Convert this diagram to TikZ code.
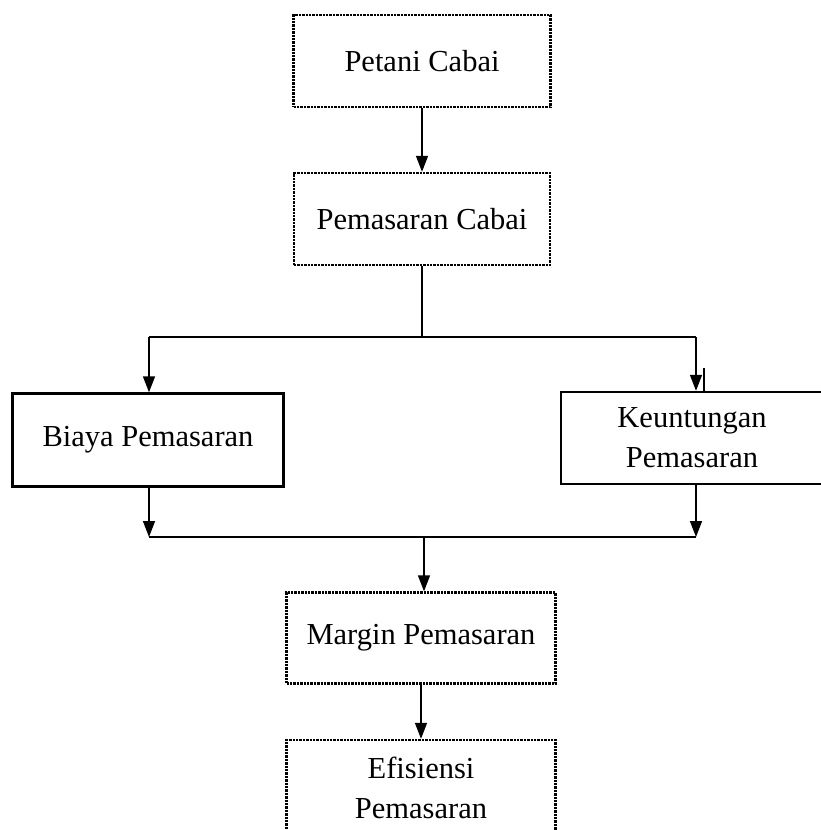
\documentclass[tikz,border=0pt]{standalone}
\usepackage{fontspec}
\setmainfont{Liberation Serif}
\usetikzlibrary{arrows.meta}

\tikzset{
  dotbox/.style={draw, densely dotted, line width=2.4pt, align=center, inner sep=0pt},
  solidbox/.style={draw, line width=2.4pt, align=center, inner sep=0pt},
  arr/.style={line width=1.5pt, -{Triangle[length=16pt,width=12pt]}},
  ln/.style={line width=1.5pt}
}

\begin{document}
\begin{tikzpicture}[x=1pt, y=-1pt, font=\fontsize{30.5}{40}\selectfont]
	\clip (0,0) rectangle (821,830);
	\fill[white] (0,0) rectangle (821,830);
	% Kotak
	\node[dotbox, minimum width=257pt, minimum height=92pt] (petani) at (422,61) {Petani Cabai};
	\node[dotbox, minimum width=256pt, minimum height=92pt] (pemasaran) at (422,219) {Pemasaran Cabai};
	\node[solidbox, minimum width=271pt, minimum height=93pt] (biaya) at (148,440) {Biaya Pemasaran};
	\node[solidbox, minimum width=262pt, minimum height=92pt] (untung) at (692,438) {Keuntungan\\Pemasaran};
	\node[dotbox, minimum width=269pt, minimum height=91pt] (margin) at (421,638) {Margin Pemasaran};
	\node[dotbox, minimum width=269pt, minimum height=96pt] (efisiensi) at (421,788) {Efisiensi\\Pemasaran};
	
	\coordinate (bagi) at (422,337);
	\coordinate (bagiL) at (149,337);
	\coordinate (bagiR) at (696,337);
	\coordinate (gabL) at (149,537);
	\coordinate (gabR) at (696,537);
	\coordinate (gabM) at (424,537);
	\coordinate (sisa) at (704,368);
	
	% Panah
	\draw[arr] (petani) -- (pemasaran);
	\draw[ln] (pemasaran) -- (bagi);
	\draw[ln] (bagiL) -- (bagiR);
	\draw[arr] (bagiL) -- (bagiL |- biaya.north);
	\draw[arr] (bagiR) -- (bagiR |- untung.north);
	\draw[ln] (sisa) -- (sisa |- untung.north);
	\draw[arr] (gabL |- biaya.south) -- (gabL);
	\draw[arr] (gabR |- untung.south) -- (gabR);
	\draw[ln] (gabL) -- (gabR);
	\draw[arr] (gabM) -- (gabM |- margin.north);
	\draw[arr] (margin) -- (efisiensi);
\end{tikzpicture}
\end{document}
